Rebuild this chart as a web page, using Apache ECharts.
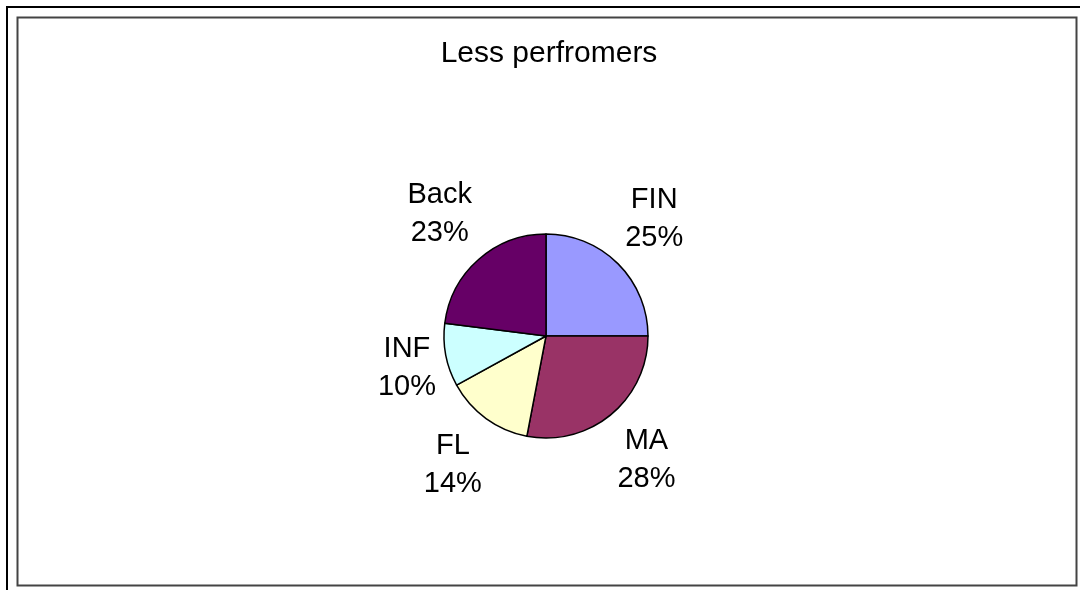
<!DOCTYPE html>
<html>
<head>
<meta charset="utf-8">
<title>Less perfromers</title>
<script src="https://cdn.jsdelivr.net/npm/echarts@6/dist/echarts.min.js"></script>
<style>
  html, body { margin: 0; padding: 0; background: #fff; }
  #chart { width: 1080px; height: 590px; }
</style>
</head>
<body>
<div id="chart"></div>
<script>
// data
var categories = ['FIN', 'MA', 'FL', 'INF', 'Back'];
var shares = [25, 28, 14, 10, 23];
var sliceColors = ['#9999ff', '#993366', '#ffffcc', '#ccffff', '#660066'];
var chartTitle = 'Less perfromers';

var pieCenter = [546, 336];
var pieRadius = 102;
var labelGap = 10;     // space between pie edge and label
var labelSlide = 1.6;  // how fast the label box swings to the side (excel-ish)
var fontName = '"Liberation Sans", Arial, sans-serif';

var chart = echarts.init(document.getElementById('chart'));

function clamp1(v) {
  return Math.max(-1, Math.min(1, v));
}

// fallback direction if no guide line points come through
function sliceDirection(idx) {
  var total = 0, before = 0;
  for (var i = 0; i < shares.length; i++) {
    total += shares[i];
    if (i < idx) before += shares[i];
  }
  var a = (90 - 360 * (before + shares[idx] / 2) / total) * Math.PI / 180;
  return [Math.cos(a), -Math.sin(a)];
}

var option = {
  animation: false,
  backgroundColor: '#fff',
  title: {
    text: chartTitle,
    left: 544,
    top: 34,
    textAlign: 'center',
    textStyle: {
      fontFamily: fontName,
      fontSize: 30,
      fontWeight: 'normal',
      color: '#000'
    }
  },
  graphic: [
    // outer frame edges
    { type: 'line', shape: { x1: 6, y1: 7, x2: 1080, y2: 7 }, style: { stroke: '#000', lineWidth: 2 }, silent: true },
    { type: 'line', shape: { x1: 7, y1: 6, x2: 7, y2: 590 }, style: { stroke: '#000', lineWidth: 2 }, silent: true },
    // chart area border
    { type: 'rect', shape: { x: 17.5, y: 17.5, width: 1059, height: 568 }, style: { fill: 'none', stroke: '#444', lineWidth: 2 }, silent: true }
  ],
  series: [
    {
      type: 'pie',
      center: pieCenter,
      radius: pieRadius,
      startAngle: 90,
      clockwise: true,
      avoidLabelOverlap: false,
      emphasis: { disabled: true },
      itemStyle: { borderColor: '#000', borderWidth: 1.5 },
      label: {
        show: true,
        position: 'outside',
        formatter: '{t|{b}}\n{t|{d}%}',
        color: '#000',
        fontFamily: fontName,
        fontSize: 29,
        lineHeight: 38,
        rich: {
          t: { align: 'center', fontFamily: fontName, fontSize: 29, lineHeight: 38, color: '#000' }
        }
      },
      labelLine: {
        show: true,
        length: 10,
        length2: 0,
        lineStyle: { opacity: 0, width: 0 }
      },
      labelLayout: function (p) {
        var pts = p.labelLinePoints;
        var x1, y1, dx, dy;
        if (pts && pts.length > 1) {
          x1 = pts[0][0];
          y1 = pts[0][1];
          var ex = pts[1][0] - x1, ey = pts[1][1] - y1;
          var len = Math.sqrt(ex * ex + ey * ey) || 1;
          dx = ex / len;
          dy = ey / len;
        } else {
          var dir = sliceDirection(p.dataIndex);
          dx = dir[0];
          dy = dir[1];
          x1 = pieCenter[0] + pieRadius * dx;
          y1 = pieCenter[1] + pieRadius * dy;
        }
        var w = p.labelRect.width, h = p.labelRect.height;
        return {
          x: x1 + dx * labelGap + clamp1(labelSlide * dx) * w / 2,
          y: y1 + dy * labelGap + clamp1(labelSlide * dy) * h / 2,
          align: 'center',
          verticalAlign: 'middle'
        };
      },
      data: categories.map(function (name, i) {
        return { name: name, value: shares[i], itemStyle: { color: sliceColors[i] } };
      })
    }
  ]
};

chart.setOption(option);
</script>
</body>
</html>
